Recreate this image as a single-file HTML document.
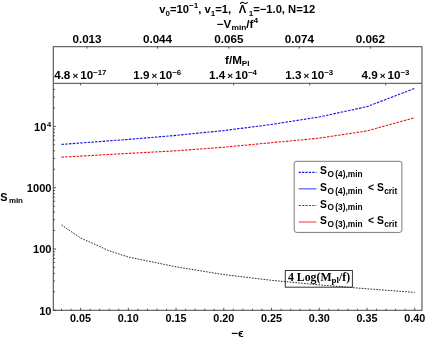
<!DOCTYPE html><html><head><meta charset="utf-8"><style>html,body{margin:0;padding:0;background:#fff}svg{display:block;position:absolute;left:0;top:0}text{filter:grayscale(1);font-family:"Liberation Sans",sans-serif;font-weight:bold;fill:#000}.s{font-family:"Liberation Serif",serif}</style></head><body>
<svg width="426" height="339" viewBox="0 0 426 339">
<rect width="426" height="339" fill="#fff"/>
<g stroke="#6a6a6a" stroke-width="1.3" fill="none">
<path d="M53.35 46.65H421.95V310.4H53.35Z M53.35 83.4H421.95"/>
</g>
<g stroke="#383838" stroke-width="0.85" fill="none">
<path d="M61.51 310.4v-1.7M71.05 310.4v-1.7M80.60 310.4v-2.6M90.15 310.4v-1.7M99.69 310.4v-1.7M109.24 310.4v-1.7M118.78 310.4v-1.7M128.33 310.4v-2.6M137.88 310.4v-1.7M147.42 310.4v-1.7M156.97 310.4v-1.7M166.51 310.4v-1.7M176.06 310.4v-2.6M185.61 310.4v-1.7M195.15 310.4v-1.7M204.70 310.4v-1.7M214.24 310.4v-1.7M223.79 310.4v-2.6M233.34 310.4v-1.7M242.88 310.4v-1.7M252.43 310.4v-1.7M261.97 310.4v-1.7M271.52 310.4v-2.6M281.07 310.4v-1.7M290.61 310.4v-1.7M300.16 310.4v-1.7M309.70 310.4v-1.7M319.25 310.4v-2.6M328.80 310.4v-1.7M338.34 310.4v-1.7M347.89 310.4v-1.7M357.43 310.4v-1.7M366.98 310.4v-2.6M376.53 310.4v-1.7M386.07 310.4v-1.7M395.62 310.4v-1.7M405.16 310.4v-1.7M414.71 310.4v-2.6M53.35 310.25h2.8M53.35 291.80h1.7M53.35 281.00h1.7M53.35 273.34h1.7M53.35 267.40h1.7M53.35 262.55h1.7M53.35 258.45h1.7M53.35 254.89h1.7M53.35 251.75h1.7M53.35 248.95h2.8M53.35 230.50h1.7M53.35 219.70h1.7M53.35 212.04h1.7M53.35 206.10h1.7M53.35 201.25h1.7M53.35 197.15h1.7M53.35 193.59h1.7M53.35 190.45h1.7M53.35 187.65h2.8M53.35 169.20h1.7M53.35 158.40h1.7M53.35 150.74h1.7M53.35 144.80h1.7M53.35 139.95h1.7M53.35 135.85h1.7M53.35 132.29h1.7M53.35 129.15h1.7M53.35 126.35h2.8M53.35 107.90h1.7M53.35 97.10h1.7M53.35 89.44h1.7M87 46.65v2.0M157.5 46.65v2.0M228.8 46.65v2.0M299.3 46.65v2.0M370.4 46.65v2.0M80.6 83.4v2.0M157.5 83.4v2.0M233.6 83.4v2.0M309.7 83.4v2.0M385.7 83.4v2.0"/>
</g>
<path d="M61.5 144.4 L80.6 143.0 L109.2 140.85 L128.3 139.4 L176 135.4 L223.8 130.6 L271.5 124.45 L319.2 116.95 L367 106.65 L414.7 88.4" stroke="#1010e8" stroke-width="1.1" stroke-dasharray="2.5 1.25" fill="none"/>
<path d="M61.5 157.1 L80.6 156.1 L109.2 154.45 L128.3 153.4 L176 150.8 L223.8 147.2 L271.5 142.7 L319.2 138.2 L367 130.9 L414.7 117.75" stroke="#e81010" stroke-width="1.1" stroke-dasharray="2.5 1.25" fill="none"/>
<rect x="285.3" y="270.5" width="67.1" height="16.7" fill="#fff" stroke="#333" stroke-width="1"/>
<path d="M61.5 225.0 L80.6 238.0 L109.2 250.8 L128.3 257.0 L176 266.8 L223.8 274.6 L271.5 280.3 L319.2 284.9 L367 288.8 L414.7 292.4" stroke="#111" stroke-width="0.9" stroke-dasharray="1.6 1.3" fill="none"/>
<text class="s" transform="translate(287.90 281.30) scale(0.985 1)" font-size="12" text-anchor="start">4 Log(M<tspan font-size="9" dy="2">pl</tspan><tspan dy="-2">/f)</tspan></text>
<rect x="294.2" y="161.3" width="107.7" height="71.1" rx="2.5" fill="#fff" stroke="#7a7a7a" stroke-width="1"/>
<path d="M298.7 172.3H316.4" stroke="#1010e8" stroke-width="1.2" stroke-dasharray="2.2 1.2"/>
<path d="M298.7 188.8H316.4" stroke="#7f7fff" stroke-width="1.6"/>
<path d="M298.7 205.5H316.4" stroke="#e81010" stroke-width="1.2" stroke-dasharray="2.2 1.2"/>
<path d="M298.7 222.0H316.4" stroke="#ff7f7f" stroke-width="1.6"/>
<text transform="translate(320.10 174.40) scale(1 1)" font-size="10.3" text-anchor="start">S<tspan font-size="8.3" dy="2.8" dx="0.6">O</tspan><tspan font-size="8.3" dx="1.3">(4),min</tspan></text>
<text transform="translate(320.10 190.90) scale(1 1)" font-size="10.3" text-anchor="start">S<tspan font-size="8.3" dy="2.8" dx="0.6">O</tspan><tspan font-size="8.3" dx="1.3">(4),min</tspan><tspan dy="-2.8" dx="2.6"> &lt; S</tspan><tspan font-size="8.3" dy="2.8" dx="0.5">crit</tspan></text>
<text transform="translate(320.10 207.60) scale(1 1)" font-size="10.3" text-anchor="start">S<tspan font-size="8.3" dy="2.8" dx="0.6">O</tspan><tspan font-size="8.3" dx="1.3">(3),min</tspan></text>
<text transform="translate(320.10 224.10) scale(1 1)" font-size="10.3" text-anchor="start">S<tspan font-size="8.3" dy="2.8" dx="0.6">O</tspan><tspan font-size="8.3" dx="1.3">(3),min</tspan><tspan dy="-2.8" dx="2.6"> &lt; S</tspan><tspan font-size="8.3" dy="2.8" dx="0.5">crit</tspan></text>
<text transform="translate(80.60 322.30) scale(1.08 1)" font-size="10" text-anchor="middle">0.05</text>
<text transform="translate(128.33 322.30) scale(1.08 1)" font-size="10" text-anchor="middle">0.10</text>
<text transform="translate(176.06 322.30) scale(1.08 1)" font-size="10" text-anchor="middle">0.15</text>
<text transform="translate(223.79 322.30) scale(1.08 1)" font-size="10" text-anchor="middle">0.20</text>
<text transform="translate(271.52 322.30) scale(1.08 1)" font-size="10" text-anchor="middle">0.25</text>
<text transform="translate(319.25 322.30) scale(1.08 1)" font-size="10" text-anchor="middle">0.30</text>
<text transform="translate(366.98 322.30) scale(1.08 1)" font-size="10" text-anchor="middle">0.35</text>
<text transform="translate(414.71 322.30) scale(1.08 1)" font-size="10" text-anchor="middle">0.40</text>
<text transform="translate(51.50 314.65) scale(1.08 1)" font-size="10.3" text-anchor="end">10</text>
<text transform="translate(51.50 253.35) scale(1.08 1)" font-size="10.3" text-anchor="end">100</text>
<text transform="translate(51.50 191.95) scale(1.08 1)" font-size="10.3" text-anchor="end">1000</text>
<text transform="translate(51.20 130.85) scale(1.08 1)" font-size="10.3" text-anchor="end">10<tspan font-size="7" dy="-4.2" dx="0.5">4</tspan></text>
<text transform="translate(0.30 201.30) scale(1.0 1)" font-size="10.8" text-anchor="start">S<tspan font-size="7.9" dy="1.3" dx="1.4">min</tspan></text>
<text transform="translate(237.40 337.30) scale(1.08 1)" font-size="10.8" text-anchor="middle">−ϵ</text>
<text transform="translate(87.00 42.60) scale(1.08 1)" font-size="10.8" text-anchor="middle">0.013</text>
<text transform="translate(157.50 42.60) scale(1.08 1)" font-size="10.8" text-anchor="middle">0.044</text>
<text transform="translate(228.80 42.60) scale(1.08 1)" font-size="10.8" text-anchor="middle">0.065</text>
<text transform="translate(299.30 42.60) scale(1.08 1)" font-size="10.8" text-anchor="middle">0.074</text>
<text transform="translate(370.40 42.60) scale(1.08 1)" font-size="10.8" text-anchor="middle">0.062</text>
<text transform="translate(80.30 79.00) scale(1.08 1)" font-size="10.8" text-anchor="middle">4.8<tspan dx="1.9" font-size="9.2" dy="-0.2">×</tspan><tspan dx="1.8" dy="0.2">10</tspan><tspan font-size="7.3" dy="-4.2">−17</tspan></text>
<text transform="translate(157.20 79.00) scale(1.08 1)" font-size="10.8" text-anchor="middle">1.9<tspan dx="1.9" font-size="9.2" dy="-0.2">×</tspan><tspan dx="1.8" dy="0.2">10</tspan><tspan font-size="7.3" dy="-4.2">−6</tspan></text>
<text transform="translate(232.90 79.00) scale(1.08 1)" font-size="10.8" text-anchor="middle">1.4<tspan dx="1.9" font-size="9.2" dy="-0.2">×</tspan><tspan dx="1.8" dy="0.2">10</tspan><tspan font-size="7.3" dy="-4.2">−4</tspan></text>
<text transform="translate(309.20 79.00) scale(1.08 1)" font-size="10.8" text-anchor="middle">1.3<tspan dx="1.9" font-size="9.2" dy="-0.2">×</tspan><tspan dx="1.8" dy="0.2">10</tspan><tspan font-size="7.3" dy="-4.2">−3</tspan></text>
<text transform="translate(385.40 79.00) scale(1.08 1)" font-size="10.8" text-anchor="middle">4.9<tspan dx="1.9" font-size="9.2" dy="-0.2">×</tspan><tspan dx="1.8" dy="0.2">10</tspan><tspan font-size="7.3" dy="-4.2">−3</tspan></text>
<text transform="translate(237.30 63.60) scale(1.08 1)" font-size="10.8" text-anchor="middle">f/M<tspan font-size="7.6" dy="2.2">Pl</tspan></text>
<text transform="translate(159.20 12.90) scale(1.04 1)" font-size="10.8" text-anchor="start">v<tspan font-size="7.8" dy="2.8">0</tspan><tspan dy="-2.8">=10</tspan><tspan font-size="7.8" dy="-4.6">−1</tspan><tspan dy="4.6">, v</tspan><tspan font-size="7.8" dy="2.8">1</tspan><tspan dy="-2.8">=1, </tspan><tspan dx="4.3">Λ</tspan><tspan font-size="7.8" dy="2.8" dx="2.4">1</tspan><tspan dy="-2.8">=−1.0, N=12</tspan></text>
<path d="M240.3 3.9c1-2 2.2-2 3.6-1s2.6 1 3.6-1" stroke="#000" stroke-width="1.1" fill="none"/>
<text transform="translate(237.50 27.50) scale(1.08 1)" font-size="10.8" text-anchor="middle">−V<tspan font-size="7.8" dy="2.6">min</tspan><tspan dy="-2.6">/f</tspan><tspan font-size="7.8" dy="-4.4">4</tspan></text>
</svg></body></html>
